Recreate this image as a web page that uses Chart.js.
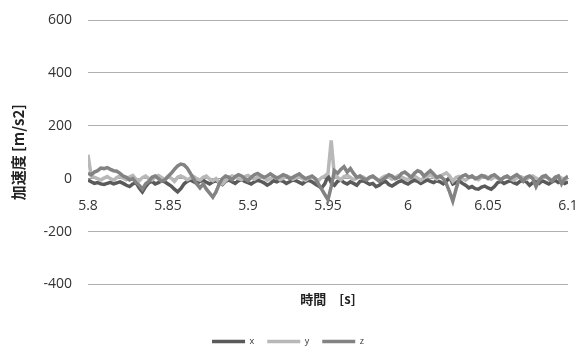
<!DOCTYPE html>
<html>
<head>
<meta charset="utf-8">
<script src="https://cdn.jsdelivr.net/npm/chart.js@4"></script>
<style>
  html, body { margin: 0; padding: 0; background: #fff; }
  #wrap { width: 579px; height: 347px; }
</style>
</head>
<body>
<div id="wrap"><canvas id="accelChart" width="579" height="347"></canvas></div>
<script>
// sample times: 5.800 .. 6.100 s, every 2 ms
const startTime = 5.8;
const sampleStep = 0.002;

const seriesNames = ["x", "y", "z"];
const seriesColors = ["#5a5a5a", "#b8b8b8", "#838383"];

const accelX = [
  -5, -12, -18, -15, -20, -22, -18, -14, -20, -16,
  -12, -18, -25, -30, -20, -15, -35, -50, -30, -15,
  -10, -20, -15, -8, -12, -20, -28, -40, -50, -38,
  -20, -10, -5, -12, -18, -10, -6, -14, -20, -12,
  -8, -15, -22, -10, -5, -12, -18, -8, -4, -10,
  -15, -20, -12, -6, -10, -16, -25, -18, -8, -12,
  -6, -10, -18, -12, -5, -8, -14, -20, -10, -6,
  -12, -20, -28, -35, -20, 10, -15, -25, -10, -5,
  -15, -20, -12, -18, -25, -10, -8, -15, -22, -18,
  -30, -25, -15, -10, -22, -28, -20, -12, -8, -15,
  -20, -12, -6, -10, -18, -12, -5, -10, -15, -8,
  -12, -20, -10, 5, -20, -15, -8, -18, -25, -35,
  -30, -38, -40, -32, -28, -35, -40, -30, -15, -10,
  -18, -12, -8, -15, -20, -10, -6, -12, -25, -15,
  -10, -18, -8, -14, -20, -12, -6, -15, -10, -18,
  -12
];

const accelY = [
  90, 10, 5, 0, -5, 2, 8, 0, -6, 4,
  10, 2, -4, 6, 12, -2, -8, 4, 10, 0,
  -5, 6, 12, 4, -3, 8, 2, -10, 5, 10,
  4, -4, 2, 8, 0, -6, 5, 10, -2, -8,
  0, -15, -20, -8, 4, 10, 6, 0, -4, 8,
  12, 4, -2, 6, 10, 2, -6, 0, 8, 4,
  -4, 2, 10, 6, -2, 4, 8, 0, -6, 2,
  6, 0, -8, 4, 10, 20, 145, 10, 5, -5,
  8, 12, 4, -4, 2, 10, 6, -2, 4, 8,
  0, -6, 4, 10, 6, -2, 4, 12, 6, 0,
  -4, 6, 10, 2, -6, 4, 8, 14, 6, -2,
  8, 16, 22, 10, -10, 4, 8, 0, -6, 4,
  10, 2, -4, 6, 10, 4, -2, 6, 2, -4,
  4, 8, 0, -6, 2, 8, 4, -2, 6, 10,
  2, -4, 4, 8, 0, -6, 4, 10, 2, -2,
  4
];

const accelZ = [
  20, 15, 25, 30, 40, 38, 42, 35, 30, 28,
  20, 10, 5, -5, 0, -15, -25, -40, -20, -10,
  5, 10, 0, -10, -5, 8, 20, 35, 48, 55,
  52, 40, 20, 0, -20, -35, -20, -40, -55, -70,
  -50, -20, 0, 10, 5, -5, 8, 15, 10, 0,
  -8, 5, 15, 20, 12, 5, 10, 18, 10, 2,
  8, 15, 10, 0, 5, 12, 18, 8, 0, 5,
  10, 0, -20, -40, -60, -80, -30, 30, 20, 35,
  45, 25, 38, 20, 5, 10, 0, -5, 5, 10,
  0, -10, -5, 5, 15, 10, 0, 5, 20, 25,
  15, 5, 20, 30, 25, 10, 20, 30, 18, 5,
  10, 0, -20, -50, -85, -40, 0, 10, 15, 5,
  10, 0, 5, 12, 8, 0, 10, 15, 5, -5,
  5, 10, 0, 8, 15, 5, -10, 5, 10, 0,
  -30, -5, 8, 12, 0, -10, 5, 10, -20, 0,
  10
];

const yTickMin = -400;
const yTickMax = 600;
const yTickStep = 200;
const xTickMin = 5.8;
const xTickMax = 6.1;
const xTickStep = 0.05;

const times = accelX.map((_, i) => +(startTime + i * sampleStep).toFixed(3));

const tickFont = { family: "'Open Sans', 'Noto Sans', sans-serif", size: 14 };

// keep the axes from reserving room for half-labels at their ends
function noEdgePadding(scale) {
  scale.paddingLeft = 0;
  scale.paddingRight = 0;
  scale.paddingTop = 0;
  scale.paddingBottom = 0;
}

const datasets = [accelX, accelY, accelZ].map((values, i) => ({
  label: seriesNames[i],
  data: values,
  borderColor: seriesColors[i],
  backgroundColor: seriesColors[i],
  borderWidth: 3.5,
  pointRadius: 0,
  tension: 0,
  order: 3 - i
}));

const ctx = document.getElementById("accelChart").getContext("2d");
new Chart(ctx, {
  type: "line",
  data: { labels: times, datasets },
  options: {
    responsive: false,
    animation: false,
    layout: { padding: { top: 20, right: 11, left: 8, bottom: -9 } },
    scales: {
      x: {
        type: "linear",
        position: { y: 0 },
        min: xTickMin,
        max: xTickMax,
        afterFit: noEdgePadding,
        grid: { display: false, drawTicks: false },
        border: { display: true, color: "#a0a0a0" },
        ticks: {
          stepSize: xTickStep,
          padding: 19,
          color: "#333",
          font: tickFont,
          maxRotation: 0,
          callback: v => String(+v.toFixed(2))
        }
      },
      y: {
        min: yTickMin,
        max: yTickMax,
        afterFit: scale => { noEdgePadding(scale); scale.width = 80; },
        grid: { color: "#b0b0b0", drawTicks: false },
        border: { display: false },
        ticks: { stepSize: yTickStep, padding: 16, color: "#333", font: tickFont },
        title: {
          display: true,
          text: "加速度 [m/s2]",
          color: "#222",
          font: { family: "'Noto Sans CJK JP', sans-serif", size: 15, weight: "bold" },
          padding: { top: 1, bottom: 0 }
        }
      }
    },
    plugins: {
      tooltip: { enabled: false },
      title: {
        display: true,
        position: "bottom",
        fullSize: false,
        text: "時間　[s]",
        color: "#222",
        font: { family: "'Noto Sans CJK JP', sans-serif", size: 13, weight: "bold" },
        weight: 500,
        padding: { top: 7, bottom: 17 }
      },
      legend: {
        position: "bottom",
        labels: {
          usePointStyle: true,
          pointStyle: "line",
          pointStyleWidth: 33,
          padding: 13,
          color: "#333",
          font: { family: "'Open Sans', sans-serif", size: 9 },
          sort: (a, b) => a.datasetIndex - b.datasetIndex
        }
      }
    }
  }
});
</script>
</body>
</html>
